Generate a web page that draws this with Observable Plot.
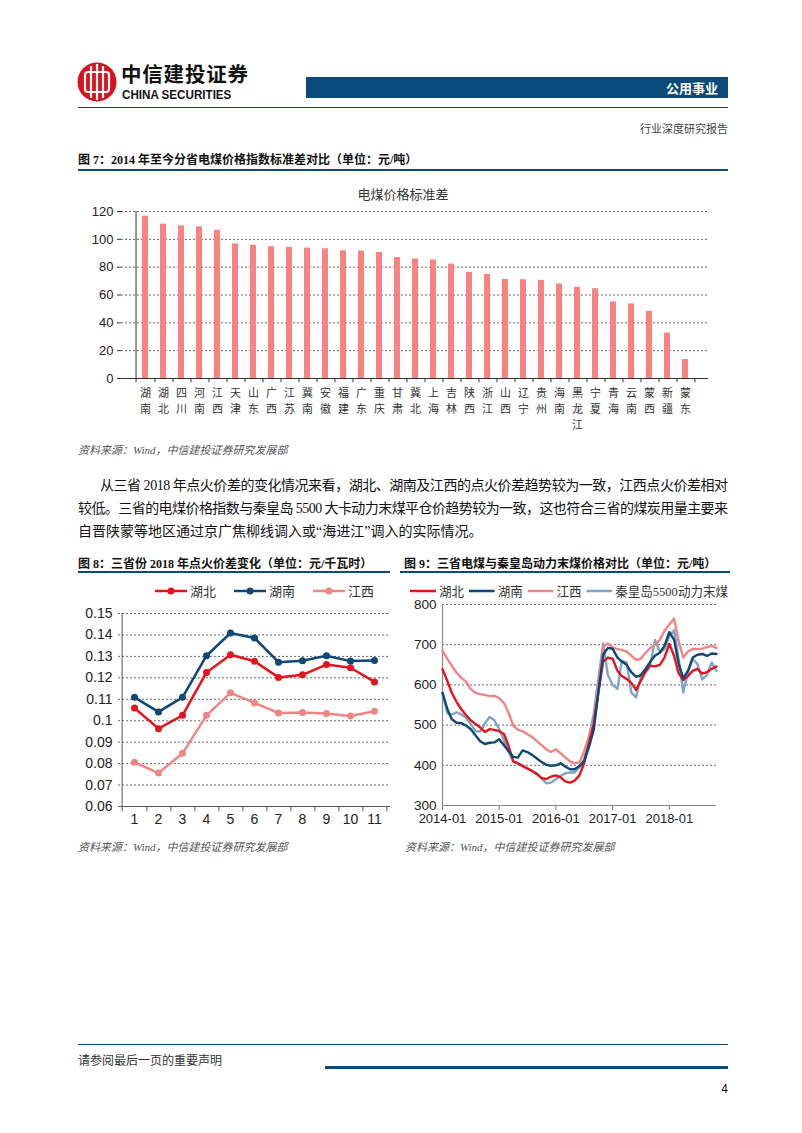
<!DOCTYPE html>
<html><head><meta charset="utf-8">
<script src="https://cdn.jsdelivr.net/npm/d3@7"></script>
<script src="https://cdn.jsdelivr.net/npm/@observablehq/plot@0.6"></script>
<style>
body{margin:0;background:#fff;}
#page{position:relative;width:802px;height:1133px;overflow:hidden;font-family:"Liberation Serif","Noto Sans CJK SC",serif;color:#111;}
.abs{position:absolute;white-space:nowrap;}
.navy{background:#0d4a7c;}
.ftitle{font-size:12px;font-weight:bold;}
.src{font-size:11px;font-style:italic;color:#555;}
.para{font-size:14px;}
.leg{font-family:"Liberation Serif","Noto Sans CJK SC",serif;font-size:13px;color:#333;display:flex;align-items:center;white-space:nowrap;}
.leg span.item{display:inline-flex;align-items:center;}
.leg svg{margin-right:3px;}
</style></head><body><div id="page">
<!-- header -->
<svg class="abs" style="left:76px;top:60px" width="44" height="44" viewBox="0 0 44 44">
  <circle cx="21" cy="22" r="19.5" fill="#d7141d"/>
  <rect x="9" y="12" width="24" height="20" rx="3" fill="none" stroke="#fff" stroke-width="2.2"/>
  <line x1="15" y1="6" x2="15" y2="38" stroke="#fff" stroke-width="2.2"/>
  <line x1="21" y1="4" x2="21" y2="40" stroke="#fff" stroke-width="2.2"/>
  <line x1="27" y1="6" x2="27" y2="38" stroke="#fff" stroke-width="2.2"/>
</svg>
<div class="abs" style="left:121px;top:62px;line-height:22px;font-family:'Noto Sans CJK SC';font-weight:bold;font-size:20.5px;letter-spacing:0.8px;">中信建投证券</div>
<div class="abs" style="left:122px;top:89px;line-height:13px;font-family:'Liberation Sans';font-weight:bold;font-size:12.5px;transform:scaleX(0.93);transform-origin:left;">CHINA SECURITIES</div>
<div class="abs navy" style="left:306px;top:77px;width:422px;height:21px;"></div>
<div class="abs" style="left:306px;top:77px;width:412px;height:21px;line-height:21px;text-align:right;color:#fff;font-family:'Noto Sans CJK SC';font-weight:bold;font-size:13px;">公用事业</div>
<div class="abs navy" style="left:78px;top:107px;width:650px;height:1px;"></div>
<div class="abs" style="left:528px;top:120px;width:200px;text-align:right;font-size:11px;color:#444;">行业深度研究报告</div>

<!-- figure 7 -->
<div class="abs ftitle" style="left:78px;top:150px;">图 7：2014 年至今分省电煤价格指数标准差对比（单位：元/吨）</div>
<div class="abs navy" style="left:78px;top:169px;width:650px;height:2px;"></div>
<div class="abs" style="left:78px;top:184px;width:650px;text-align:center;font-size:13px;color:#333;">电煤价格标准差</div>
<div class="abs" id="c7" style="left:78px;top:203px;"></div>
<div class="abs src" style="left:78px;top:441px;">资料来源：Wind，中信建投证券研究发展部</div>

<div class="abs para" data-fit="628" style="left:100px;top:474px;">从三省 2018 年点火价差的变化情况来看，湖北、湖南及江西的点火价差趋势较为一致，江西点火价差相对</div>
<div class="abs para" data-fit="650" style="left:78px;top:497px;">较低。三省的电煤价格指数与秦皇岛 5500 大卡动力末煤平仓价趋势较为一致，这也符合三省的煤炭用量主要来</div>
<div class="abs para" style="left:78px;top:520px;">自晋陕蒙等地区通过京广焦柳线调入或“海进江”调入的实际情况。</div>

<!-- figure 8 -->
<div class="abs ftitle" style="left:78px;top:554px;">图 8：三省份 2018 年点火价差变化（单位：元/千瓦时）</div>
<div class="abs navy" style="left:78px;top:571px;width:312px;height:2px;"></div>
<div class="abs leg" id="leg8" style="left:155px;top:581px;"></div>
<div class="abs" id="c8" style="left:78px;top:603px;"></div>
<div class="abs src" style="left:78px;top:838px;">资料来源：Wind，中信建投证券研究发展部</div>

<!-- figure 9 -->
<div class="abs ftitle" style="left:404px;top:554px;">图 9：三省电煤与秦皇岛动力末煤价格对比（单位：元/吨）</div>
<div class="abs navy" style="left:400px;top:571px;width:330px;height:2px;"></div>
<div class="abs leg" id="leg9" style="left:410px;top:581px;"></div>
<div class="abs" id="c9" style="left:400px;top:595px;"></div>
<div class="abs src" style="left:405px;top:838px;">资料来源：Wind，中信建投证券研究发展部</div>

<!-- footer -->
<div class="abs navy" style="left:78px;top:1044px;width:650px;height:1px;"></div>
<div class="abs" style="left:78px;top:1051px;font-size:12px;color:#333;">请参阅最后一页的重要声明</div>
<div class="abs navy" style="left:325px;top:1066px;width:403px;height:3px;"></div>
<div class="abs" style="left:700px;top:1082px;width:28px;text-align:right;font-size:12px;font-family:'Liberation Sans';">4</div>
</div>
<script>
// ---------- Figure 7 data ----------
const provinces = ["湖南","湖北","四川","河南","江西","天津","山东","广西","江苏","冀南","安徽","福建","广东","重庆","甘肃","冀北","上海","吉林","陕西","浙江","山西","辽宁","贵州","海南","黑龙江","宁夏","青海","云南","蒙西","新疆","蒙东"];
const stdValues = [116.6,110.9,109.7,109.0,106.5,96.7,95.7,94.7,94.2,93.7,93.2,91.8,91.6,90.5,86.9,85.9,85.2,82.2,76.3,74.8,71.2,71.0,70.5,67.9,65.5,64.5,55.0,53.6,48.3,32.6,13.6];
const yTicks7 = [0,20,40,60,80,100,120];

// ---------- Figure 8 data ----------
const months8 = [1,2,3,4,5,6,7,8,9,10,11];
const hubei8 = [0.1059,0.0963,0.1025,0.1225,0.1308,0.1277,0.1202,0.1214,0.1262,0.1247,0.1181];
const hunan8 = [0.1109,0.1041,0.1109,0.1303,0.1409,0.1386,0.1273,0.1280,0.1303,0.1278,0.1281];
const jiangxi8 = [0.0806,0.0756,0.0848,0.1025,0.1130,0.1083,0.1036,0.1038,0.1034,0.1022,0.1044];
const yTicks8 = [0.06,0.07,0.08,0.09,0.10,0.11,0.12,0.13,0.14,0.15];

// ---------- Figure 9 data (monthly, 2014-01 .. 2018-11) ----------
const startMonth9 = "2014-01-01", endMonth9 = "2018-11-01";
const hubei9 = [639,610,581,558,540,525,512,503,494,483, 490,488,485,478,450,410,405,398,392,386, 378,368,366,372,375,370,360,357,362,375, 405,455,502,580,658,668,665,635,622,615, 605,588,610,633,648,646,650,668,702,672, 630,612,622,635,640,628,632,640,646];
const hunan9 = [580,540,515,506,505,499,490,475,460,453, 456,457,465,450,436,421,419,437,433,426, 417,408,401,399,400,405,397,390,390,398, 410,445,488,582,675,692,690,668,658,650, 632,620,624,640,658,673,680,697,731,712, 655,616,635,668,675,677,672,678,677];
const jiangxi9 = [685,665,648,631,618,608,590,580,577,575, 572,573,567,555,532,500,488,485,478,470, 460,450,440,433,440,430,420,410,405,407, 435,470,511,598,695,703,693,689,687,683, 673,662,665,680,692,700,712,735,750,765, 710,668,683,690,689,690,694,697,692];
const qhd9 = [580,530,526,532,527,518,503,485,484,505, 520,512,490,462,435,410,405,400,393,386, 380,368,355,357,365,374,380,382,382,395, 415,470,527,615,703,625,600,590,660,656, 581,569,619,631,652,712,681,689,722,736, 668,581,631,664,652,614,625,656,635];
const yearTicks9 = ["2014-01-01","2015-01-01","2016-01-01","2017-01-01","2018-01-01"];
const yTicks9 = [300,400,500,600,700,800];

const C = {red:"#e5141c", navy:"#0f4777", pink:"#f08585", steel:"#7fa5c6", bar:"#fa8282", grid:"#444"};

// ---------- justify paragraph lines to their widths ----------
document.querySelectorAll(".para[data-fit]").forEach(el => {
  const target = +el.dataset.fit;
  const text = el.textContent;
  const span = document.createElement("span");
  span.textContent = text;
  el.textContent = "";
  el.append(span);
  const w = span.getBoundingClientRect().width;
  const n = [...text].length;
  el.style.letterSpacing = ((target - w) / (n - 1)) + "px";
});

// ---------- Figure 7 ----------
{
  const W = 650, mL = 43, mR = 20;
  const step = (W - mL - mR) / provinces.length;
  const rows = provinces.map((p, i) => ({p, v: stdValues[i]}));
  const chart = Plot.plot({
    width: W, height: 230, marginLeft: mL, marginRight: mR, marginTop: 8, marginBottom: 55,
    style: {fontFamily: "'Noto Sans CJK SC', sans-serif", background: "transparent", color: "#222"},
    x: {domain: provinces, padding: 0.68, label: null},
    y: {domain: [0, 120], label: null},
    marks: [
      Plot.gridY(yTicks7.filter(d => d > 0), {stroke: C.grid, strokeOpacity: 1, strokeDasharray: "2,2", strokeWidth: 0.8}),
      Plot.barY(rows, {x: "p", y: "v", fill: C.bar}),
      Plot.axisY({ticks: yTicks7, tickSize: 4, tickPadding: 4, fontSize: 13, fontFamily: "Liberation Sans", stroke: "#333"}),
      Plot.axisX({tickSize: 0, tickPadding: 7, fontSize: 11, lineHeight: 1.45, fill: "#333", tickFormat: d => [...d].join("\n")}),
      Plot.ruleY([0], {stroke: "#333"}),
      Plot.ruleX(provinces, {x: d => d, dx: step / 2, y1: 0, y2: -3, stroke: "#333"}),
      Plot.ruleX([provinces[0]], {x: d => d, dx: -step / 2, y1: -3, y2: 120, stroke: "#333"})
    ]
  });
  document.getElementById("c7").append(chart);
}

// ---------- legends ----------
function legend(el, items, withDot, lineW, gap) {
  const box = document.getElementById(el);
  items.forEach(([name, color], i) => {
    const s = document.createElement("span");
    s.className = "item";
    if (i > 0) s.style.marginLeft = gap + "px";
    s.innerHTML = `<svg width="${lineW}" height="10"><line x1="0" y1="5" x2="${lineW}" y2="5" stroke="${color}" stroke-width="2.5"/>` +
      (withDot ? `<circle cx="${lineW / 2}" cy="5" r="3.5" fill="${color}"/>` : "") + `</svg>${name}`;
    box.append(s);
  });
}
legend("leg8", [["湖北", C.red], ["湖南", C.navy], ["江西", C.pink]], true, 32, 18);
legend("leg9", [["湖北", C.red], ["湖南", C.navy], ["江西", C.pink], ["秦皇岛5500动力末煤", C.steel]], false, 27, 5);
{
  // keep legend 9 within the figure column
  const box = document.getElementById("leg9");
  const w = box.getBoundingClientRect().width;
  if (w > 318) { box.style.transform = `scaleX(${318 / w})`; box.style.transformOrigin = "left"; }
}

// ---------- Figure 8 ----------
{
  const W = 314, mL = 40, mR = 2;
  const step = (W - mL - mR) / months8.length;
  const series = [["湖北", hubei8, C.red], ["湖南", hunan8, C.navy], ["江西", jiangxi8, C.pink]];
  const rows = series.flatMap(([name, vals, color]) => vals.map((v, i) => ({name, m: months8[i], v, color})));
  const chart = Plot.plot({
    width: W, height: 227, marginLeft: mL, marginRight: mR, marginTop: 10, marginBottom: 24,
    style: {fontFamily: "'Liberation Sans', sans-serif", background: "transparent", color: "#222"},
    x: {type: "point", domain: months8, padding: 0.5, label: null},
    y: {domain: [0.06, 0.15], label: null},
    marks: [
      Plot.gridY(yTicks8.filter(d => d > 0.06), {stroke: C.grid, strokeOpacity: 1, strokeDasharray: "2,2", strokeWidth: 0.8}),
      Plot.axisY({ticks: yTicks8, tickSize: 0, tickPadding: 6, fontSize: 14, tickFormat: d => String(+d.toFixed(2))}),
      Plot.axisX({tickSize: 0, tickPadding: 8, fontSize: 14}),
      Plot.ruleY([0.06], {stroke: "#555"}),
      Plot.ruleX([months8[0]], {x: d => d, dx: -step / 2, y1: 0.0575, y2: 0.15, stroke: "#555"}),
      Plot.ruleX(months8, {x: d => d, dx: step / 2, y1: 0.06, y2: 0.0575, stroke: "#555"}),
      Plot.line(rows, {x: "m", y: "v", z: "name", stroke: "color", strokeWidth: 2.5}),
      Plot.dot(rows, {x: "m", y: "v", fill: "color", r: 3.5})
    ]
  });
  document.getElementById("c8").append(chart);
}

// ---------- Figure 9 ----------
{
  const dates = d3.utcMonth.range(new Date(startMonth9), d3.utcMonth.offset(new Date(endMonth9), 1));
  const series = [["秦皇岛", qhd9, C.steel], ["江西", jiangxi9, C.pink], ["湖北", hubei9, C.red], ["湖南", hunan9, C.navy]];
  const rows = series.flatMap(([name, vals, color]) => vals.map((v, i) => ({name, d: dates[i], v, color})));
  const chart = Plot.plot({
    width: 330, height: 235, marginLeft: 42, marginRight: 14, marginTop: 9, marginBottom: 25,
    style: {fontFamily: "'Liberation Sans', sans-serif", background: "transparent", color: "#222"},
    x: {type: "utc", domain: [new Date(startMonth9), new Date(endMonth9)], label: null},
    y: {domain: [300, 800], label: null},
    marks: [
      Plot.gridY(yTicks9.filter(d => d > 300), {stroke: C.grid, strokeOpacity: 1, strokeDasharray: "2,2", strokeWidth: 0.8}),
      Plot.axisY({ticks: yTicks9, tickSize: 0, tickPadding: 6, fontSize: 13.5}),
      Plot.axisX({ticks: yearTicks9.map(d => new Date(d)), tickSize: 5, tickPadding: 3, fontSize: 13, stroke: "#777", tickFormat: d3.utcFormat("%Y-%m")}),
      Plot.ruleY([300], {stroke: "#888"}),
      Plot.ruleX([new Date(startMonth9)], {stroke: "#888", strokeWidth: 1.2}),
      Plot.line(rows, {x: "d", y: "v", z: "name", stroke: "color", strokeWidth: 2.4})
    ]
  });
  document.getElementById("c9").append(chart);
}
</script>
</body></html>
